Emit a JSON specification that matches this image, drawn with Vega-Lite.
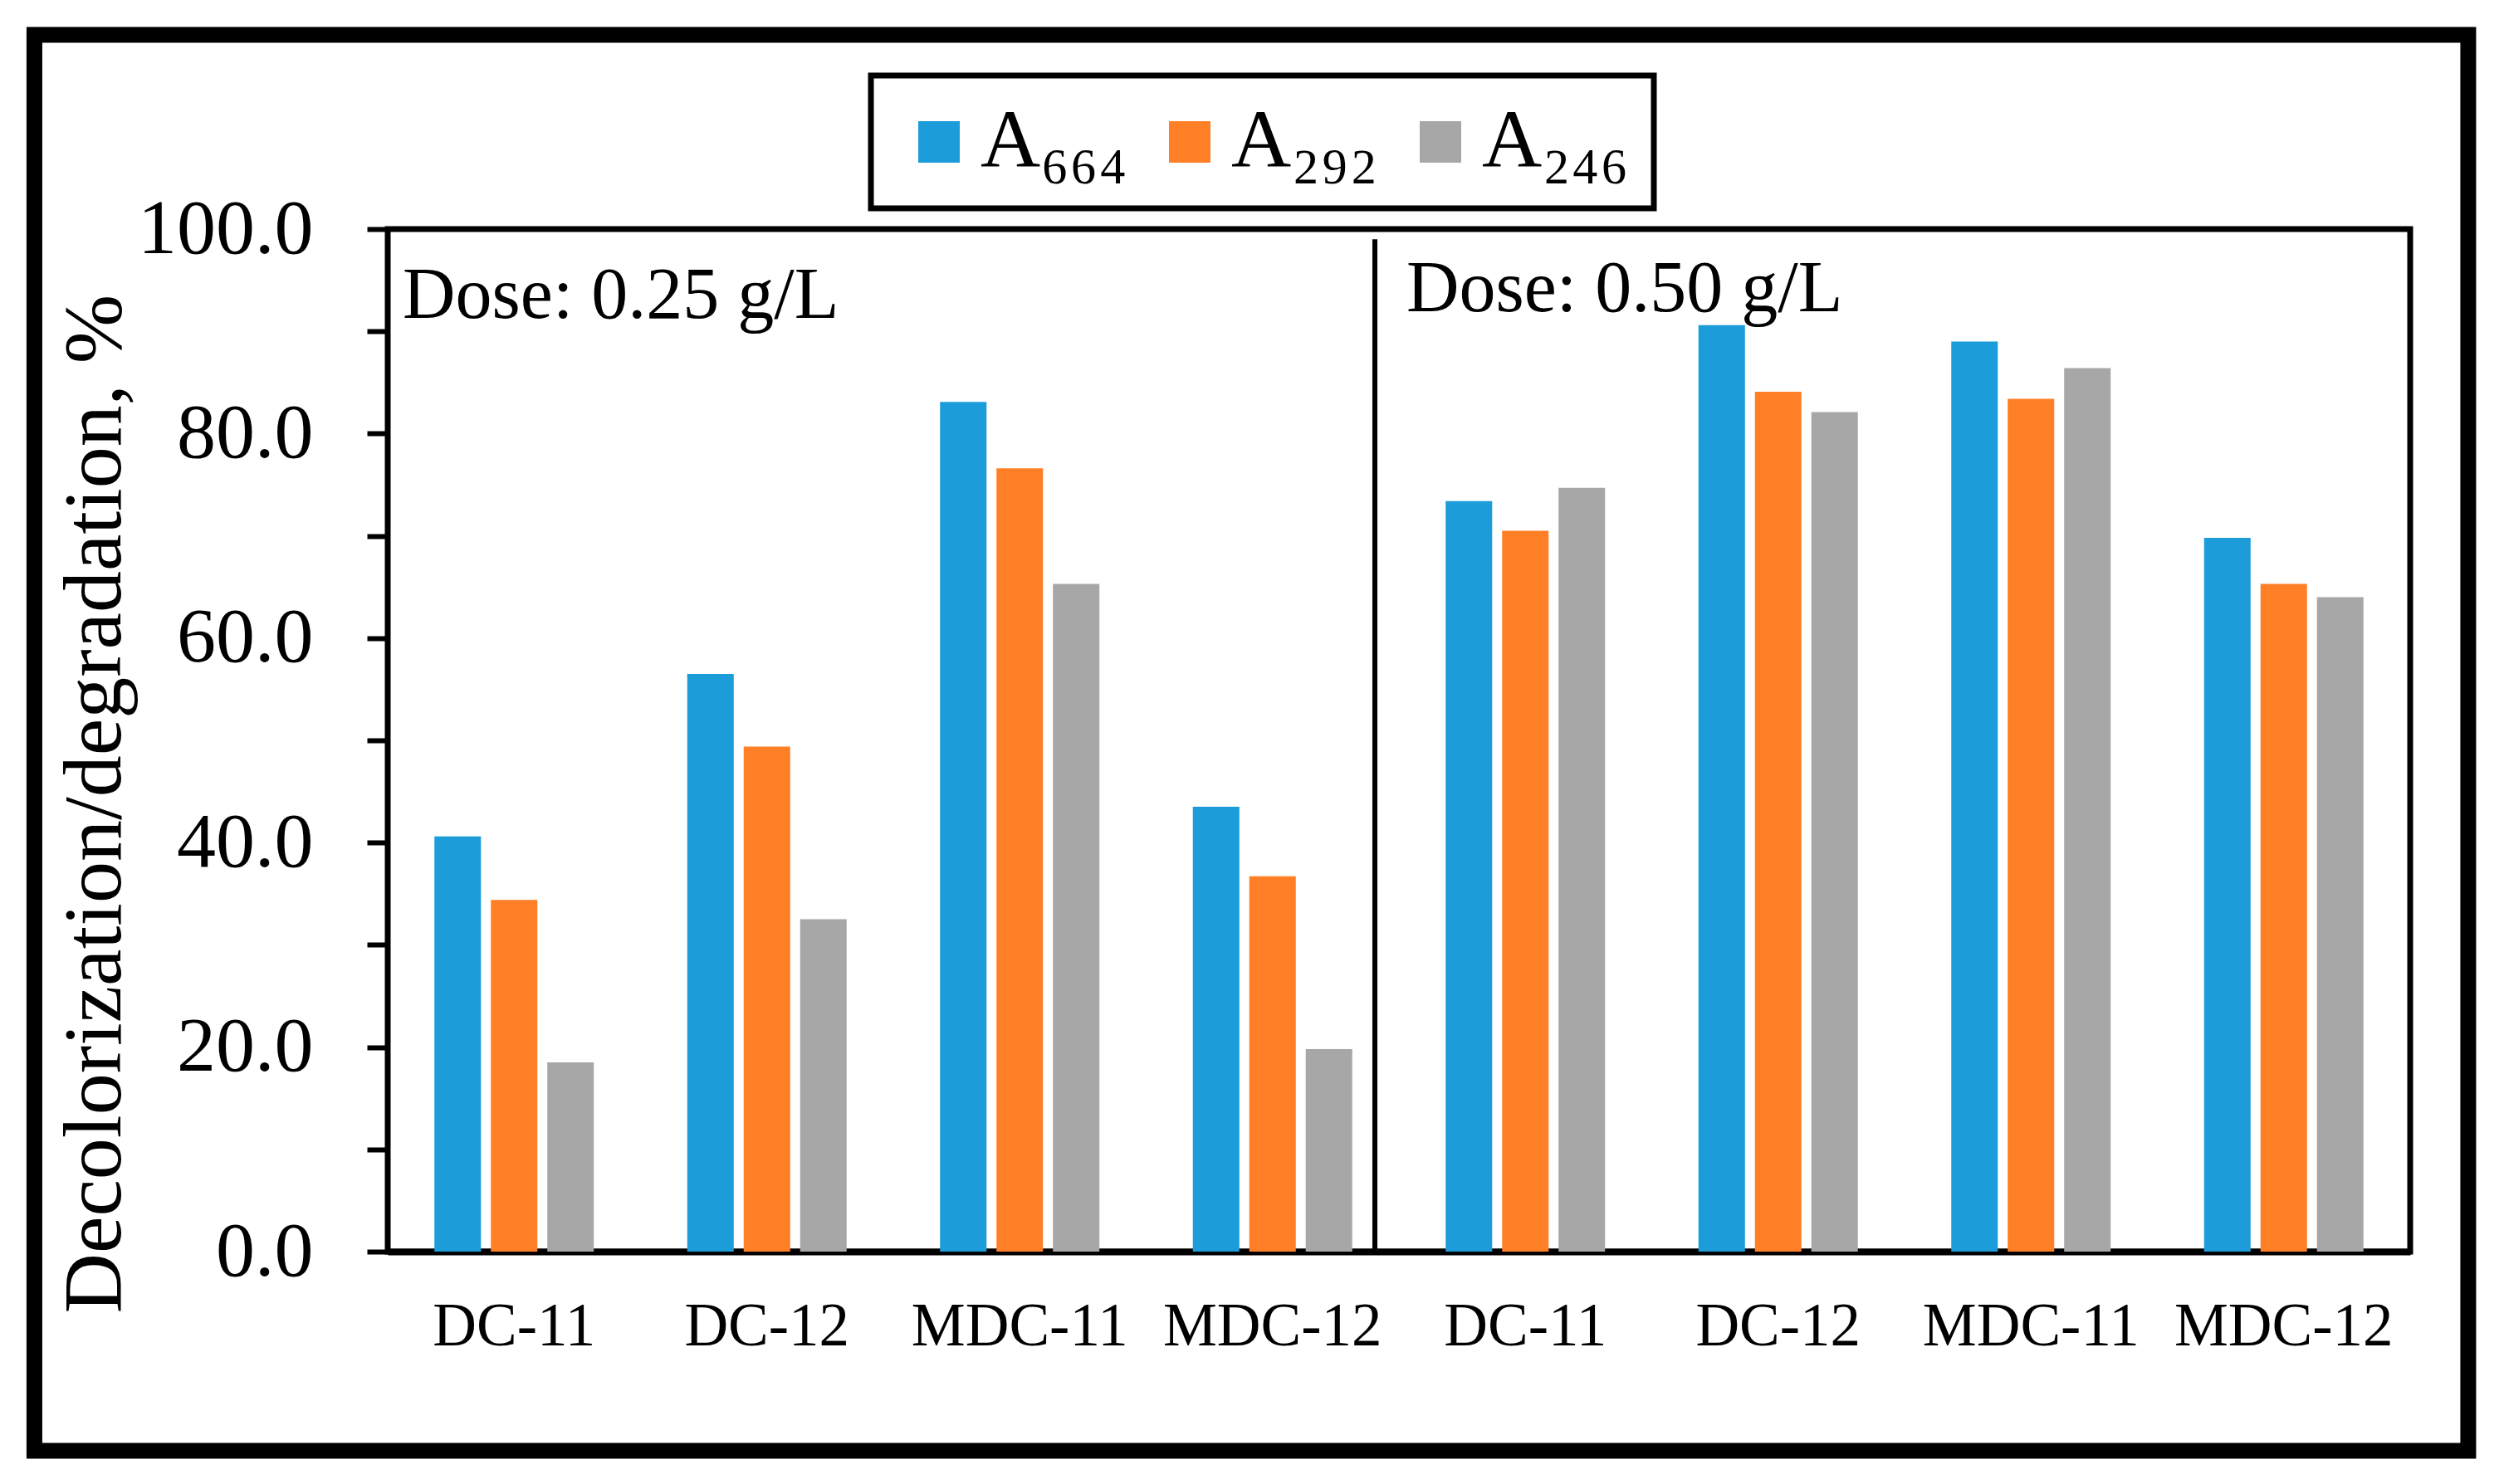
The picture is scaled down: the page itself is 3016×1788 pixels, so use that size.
{
  "$schema": "https://vega.github.io/schema/vega-lite/v6.json",
  "width": 2436,
  "height": 1232,
  "autosize": {"type": "none"},
  "padding": {"left": 467, "top": 276, "right": 113, "bottom": 280},
  "background": "white",
  "config": {
    "view": {"stroke": "black", "strokeWidth": 7},
    "font": "Liberation Serif",
    "legend": {"strokeColor": "black", "strokeWidth": 7}
  },
  "datasets": {
    "bars": [
      {"cat": "0.25 DC-11", "dose": "0.25 g/L", "sample": "DC-11", "series": "A₆₆₄", "value": 40.6},
      {"cat": "0.25 DC-11", "dose": "0.25 g/L", "sample": "DC-11", "series": "A₂₉₂", "value": 34.4},
      {"cat": "0.25 DC-11", "dose": "0.25 g/L", "sample": "DC-11", "series": "A₂₄₆", "value": 18.5},
      {"cat": "0.25 DC-12", "dose": "0.25 g/L", "sample": "DC-12", "series": "A₆₆₄", "value": 56.5},
      {"cat": "0.25 DC-12", "dose": "0.25 g/L", "sample": "DC-12", "series": "A₂₉₂", "value": 49.4},
      {"cat": "0.25 DC-12", "dose": "0.25 g/L", "sample": "DC-12", "series": "A₂₄₆", "value": 32.5},
      {"cat": "0.25 MDC-11", "dose": "0.25 g/L", "sample": "MDC-11", "series": "A₆₆₄", "value": 83.1},
      {"cat": "0.25 MDC-11", "dose": "0.25 g/L", "sample": "MDC-11", "series": "A₂₉₂", "value": 76.6},
      {"cat": "0.25 MDC-11", "dose": "0.25 g/L", "sample": "MDC-11", "series": "A₂₄₆", "value": 65.3},
      {"cat": "0.25 MDC-12", "dose": "0.25 g/L", "sample": "MDC-12", "series": "A₆₆₄", "value": 43.5},
      {"cat": "0.25 MDC-12", "dose": "0.25 g/L", "sample": "MDC-12", "series": "A₂₉₂", "value": 36.7},
      {"cat": "0.25 MDC-12", "dose": "0.25 g/L", "sample": "MDC-12", "series": "A₂₄₆", "value": 19.8},
      {"cat": "0.50 DC-11", "dose": "0.50 g/L", "sample": "DC-11", "series": "A₆₆₄", "value": 73.4},
      {"cat": "0.50 DC-11", "dose": "0.50 g/L", "sample": "DC-11", "series": "A₂₉₂", "value": 70.5},
      {"cat": "0.50 DC-11", "dose": "0.50 g/L", "sample": "DC-11", "series": "A₂₄₆", "value": 74.7},
      {"cat": "0.50 DC-12", "dose": "0.50 g/L", "sample": "DC-12", "series": "A₆₆₄", "value": 90.6},
      {"cat": "0.50 DC-12", "dose": "0.50 g/L", "sample": "DC-12", "series": "A₂₉₂", "value": 84.1},
      {"cat": "0.50 DC-12", "dose": "0.50 g/L", "sample": "DC-12", "series": "A₂₄₆", "value": 82.1},
      {"cat": "0.50 MDC-11", "dose": "0.50 g/L", "sample": "MDC-11", "series": "A₆₆₄", "value": 89.0},
      {"cat": "0.50 MDC-11", "dose": "0.50 g/L", "sample": "MDC-11", "series": "A₂₉₂", "value": 83.4},
      {"cat": "0.50 MDC-11", "dose": "0.50 g/L", "sample": "MDC-11", "series": "A₂₄₆", "value": 86.4},
      {"cat": "0.50 MDC-12", "dose": "0.50 g/L", "sample": "MDC-12", "series": "A₆₆₄", "value": 69.8},
      {"cat": "0.50 MDC-12", "dose": "0.50 g/L", "sample": "MDC-12", "series": "A₂₉₂", "value": 65.3},
      {"cat": "0.50 MDC-12", "dose": "0.50 g/L", "sample": "MDC-12", "series": "A₂₄₆", "value": 64.0}
    ]
  },
  "layer": [
    {
      "data": {"name": "bars"},
      "mark": {"type": "bar"},
      "encoding": {
        "x": {
          "field": "cat", "type": "nominal", "sort": null,
          "scale": {"paddingInner": 0.3695, "paddingOuter": 0.18475},
          "axis": {
            "title": null,
            "labelExpr": "split(datum.label, ' ')[1]",
            "labelFont": "Liberation Serif", "labelFontSize": 73, "labelColor": "black",
            "labelBaseline": "alphabetic", "labelPadding": 112, "labelAngle": 0, "labelLimit": 0,
            "ticks": false, "tickSize": 0,
            "domainColor": "black", "domainWidth": 8
          }
        },
        "xOffset": {
          "field": "series", "type": "nominal", "sort": ["A₆₆₄", "A₂₉₂", "A₂₄₆"],
          "scale": {"paddingInner": 0.176, "paddingOuter": 0}
        },
        "y": {
          "field": "value", "type": "quantitative",
          "scale": {"domain": [0, 100], "nice": false},
          "axis": {
            "title": "Decolorization/degradation, %",
            "titleFont": "Liberation Serif", "titleFontSize": 100, "titleFontWeight": "normal", "titleColor": "black",
            "titleAngle": 270, "titleBaseline": "alphabetic", "titleAlign": "center",
            "titleX": -323, "titleY": 692,
            "values": [0, 10, 20, 30, 40, 50, 60, 70, 80, 90, 100],
            "labelExpr": "datum.value % 20 === 0 ? format(datum.value, '.1f') : ''",
            "labelFont": "Liberation Serif", "labelFontSize": 94, "labelColor": "black", "labelPadding": 65, "labelLimit": 0,
            "tickSize": 25, "tickWidth": 6, "tickColor": "black",
            "domain": false, "grid": false
          }
        },
        "color": {
          "field": "series", "type": "nominal",
          "scale": {"domain": ["A₆₆₄", "A₂₉₂", "A₂₄₆"], "range": ["#1C9CD8", "#FF7F27", "#A7A7A7"]},
          "legend": {
            "title": null, "orient": "none", "legendX": 582, "legendY": -185,
            "direction": "horizontal", "columns": 3,
            "symbolType": "square", "symbolSize": 2500, "symbolStrokeWidth": 0,
            "labelFont": "Liberation Serif", "labelFontSize": 100, "labelColor": "black",
            "labelOffset": 0, "symbolOffset": 2, "columnPadding": 23, "padding": 30,
            "labelLimit": 0
          }
        }
      }
    },
    {
      "data": {"values": [{}]},
      "mark": {"type": "rect", "filled": false, "stroke": "black", "strokeWidth": 19},
      "encoding": {
        "x": {"datum": -0.1747, "type": "quantitative", "scale": {"domain": [0, 1], "nice": false, "zero": false}, "axis": null},
        "x2": {"datum": 1.0287},
        "y": {"datum": 118.99, "type": "quantitative", "scale": {"domain": [0, 100], "nice": false}},
        "y2": {"datum": -19.48}
      }
    },
    {
      "data": {"values": [{}]},
      "mark": {"type": "rule", "stroke": "black", "strokeWidth": 6},
      "encoding": {
        "x": {"datum": 0.4881, "type": "quantitative", "scale": {"domain": [0, 1], "nice": false, "zero": false}, "axis": null},
        "y": {"datum": 99, "type": "quantitative", "scale": {"domain": [0, 100], "nice": false}},
        "y2": {"datum": 0}
      }
    },
    {
      "data": {"values": [{}]},
      "mark": {"type": "text", "align": "left", "baseline": "alphabetic", "font": "Liberation Serif", "fontSize": 88, "color": "black"},
      "encoding": {
        "x": {"datum": 0.0074, "type": "quantitative", "scale": {"domain": [0, 1], "nice": false, "zero": false}, "axis": null},
        "y": {"datum": 91.3, "type": "quantitative", "scale": {"domain": [0, 100], "nice": false}},
        "text": {"value": "Dose: 0.25 g/L"}
      }
    },
    {
      "data": {"values": [{}]},
      "mark": {"type": "text", "align": "left", "baseline": "alphabetic", "font": "Liberation Serif", "fontSize": 88, "color": "black"},
      "encoding": {
        "x": {"datum": 0.5037, "type": "quantitative", "scale": {"domain": [0, 1], "nice": false, "zero": false}, "axis": null},
        "y": {"datum": 92.0, "type": "quantitative", "scale": {"domain": [0, 100], "nice": false}},
        "text": {"value": "Dose: 0.50 g/L"}
      }
    }
  ],
  "resolve": {"scale": {"x": "independent"}}
}
